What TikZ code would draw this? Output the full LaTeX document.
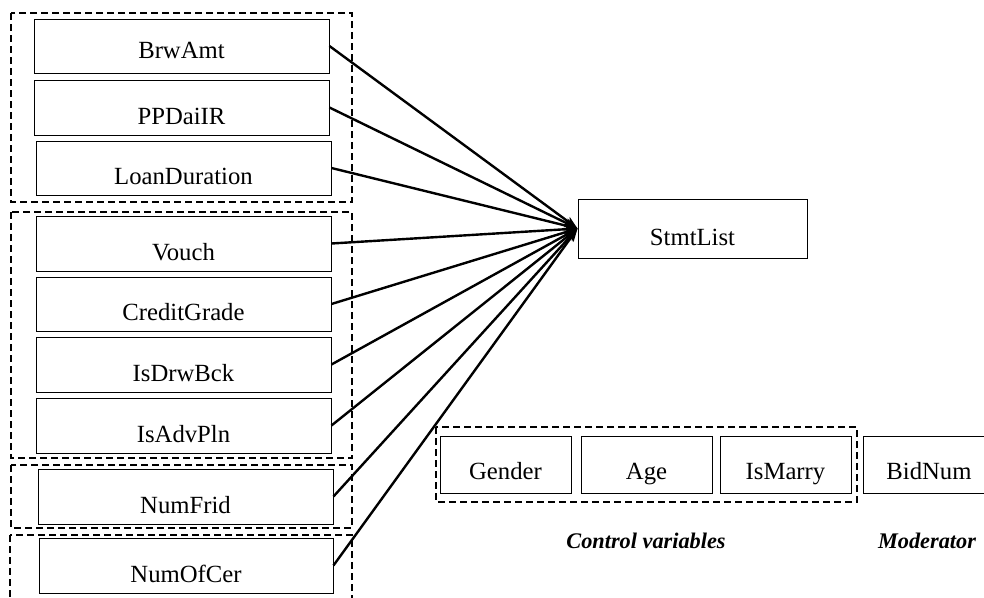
\documentclass[tikz,border=0pt]{standalone}
\usepackage{fontspec}
\setmainfont{Liberation Serif}
\usetikzlibrary{arrows.meta}
\begin{document}
\begin{tikzpicture}[x=1pt,y=-1pt,
  varbox/.style={draw, line width=0.9pt, inner sep=0pt, minimum width=295pt, minimum height=55pt,
    text height=33.4pt, text depth=0pt, font=\fontsize{24.7}{28}\selectfont},
  ctrlbox/.style={varbox, minimum width=131pt, minimum height=57pt, text height=30.8pt},
  grp/.style={draw, line width=1.1pt, dash pattern=on 7pt off 4pt},
  conn/.style={line width=2.4pt, -{Stealth[length=13pt,width=9pt,inset=3pt]}},
  caption/.style={font=\fontsize{22.3}{26}\selectfont\bfseries\itshape}]
\useasboundingbox (0,0) rectangle (984,597);
% groups
\draw[grp] (11,13) rectangle (352,202);
\draw[grp] (11,212) rectangle (352,458);
\draw[grp] (11,465) rectangle (352,528);
\draw[grp] (10,535) rectangle (352,612);
\draw[grp] (436,427) rectangle (857,502);
% independent variables
\node[varbox, minimum height=54pt, text height=25.4pt] (brw) at (181.5,46) {BrwAmt};
\node[varbox] (ppd) at (181.5,107.5) {PPDaiIR};
\node[varbox, minimum height=54pt] (loan) at (183.5,168) {LoanDuration};
\node[varbox] (vouch) at (183.5,243.5) {Vouch};
\node[varbox, minimum height=54pt] (credit) at (183.5,304) {CreditGrade};
\node[varbox] (drw) at (183.5,364.5) {IsDrwBck};
\node[varbox] (adv) at (183.5,425.5) {IsAdvPln};
\node[varbox] (frid) at (185.5,496.5) {NumFrid};
\node[varbox, minimum width=294pt] (cer) at (186,565.5) {NumOfCer};
% dependent variable
\node[varbox, minimum width=229pt, minimum height=59pt, text height=33pt] (stmt) at (692.5,228.5) {StmtList};
% control and moderator
\node[ctrlbox] (gender) at (505.5,464.5) {Gender};
\node[ctrlbox] (age) at (646.5,464.5) {Age};
\node[ctrlbox] (marry) at (785.5,464.5) {IsMarry};
\node[ctrlbox] (bid) at (929,464.5) {BidNum};
\node[caption] (ctrl) at (646,541) {Control variables};
\node[caption] (mod) at (927,541) {Moderator};
% connectors
\foreach \n in {brw,ppd,loan,vouch,credit,drw,adv,frid,cer}
  \draw[conn] (\n.east) -- (stmt.west);
\end{tikzpicture}
\end{document}
